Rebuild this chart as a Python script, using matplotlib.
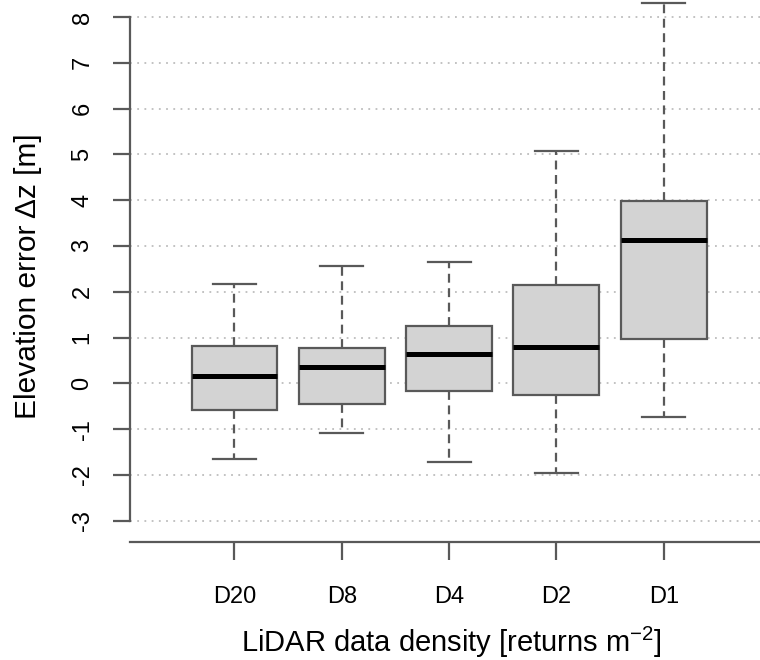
import matplotlib
matplotlib.use('Agg')
import matplotlib.pyplot as plt

plt.rcParams['font.family'] = ['Liberation Sans', 'DejaVu Sans']
plt.rcParams['mathtext.fontset'] = 'custom'
plt.rcParams['mathtext.rm'] = 'Liberation Sans'
plt.rcParams['mathtext.it'] = 'Liberation Sans:italic'

# data
labels = ['D20', 'D8', 'D4', 'D2', 'D1']
whislo = [-1.66, -1.08, -1.72, -1.95, -0.73]
q1 = [-0.58, -0.45, -0.16, -0.26, 0.96]
med = [0.17, 0.36, 0.65, 0.80, 3.13]
q3 = [0.81, 0.78, 1.25, 2.15, 3.98]
whishi = [2.16, 2.56, 2.65, 5.08, 8.30]
yticks = list(range(-3, 9))

stats = []
for i in range(len(labels)):
    stats.append({'label': labels[i], 'whislo': whislo[i], 'q1': q1[i],
                  'med': med[i], 'q3': q3[i], 'whishi': whishi[i], 'fliers': []})

gray = '#595959'

fig = plt.figure(figsize=(7.6, 6.6), dpi=100)
ax = fig.add_axes([0.1717, 0.1788, 0.8283, 0.8212])

ax.set_axisbelow(True)
ax.yaxis.grid(True, linestyle=(0, (1, 3)), color='#bdbdbd', lw=1.3)

ax.bxp(stats, positions=range(1, 6), widths=0.8, capwidths=0.4,
       patch_artist=True, showfliers=False,
       boxprops=dict(facecolor='#d3d3d3', edgecolor=gray, lw=1.6),
       medianprops=dict(color='black', lw=3.6, solid_capstyle='butt'),
       whiskerprops=dict(color=gray, lw=1.6, linestyle=(0, (4, 2.5))),
       capprops=dict(color=gray, lw=1.6))

ax.set_xlim(0.031, 5.897)
ax.set_ylim(-3.465, 8.37)
ax.set_yticks(yticks)
ax.set_yticklabels([str(t) for t in yticks])

for s in ['top', 'right']:
    ax.spines[s].set_visible(False)
ax.spines['left'].set_bounds(-3, 8)
for s in ['left', 'bottom']:
    ax.spines[s].set_color(gray)
    ax.spines[s].set_linewidth(1.6)

ax.tick_params(axis='both', length=12.6, width=1.6, color=gray, labelsize=17)
ax.tick_params(axis='y', pad=14, labelrotation=90)
ax.tick_params(axis='x', pad=19)
for t in ax.get_yticklabels():
    t.set_va('center')

fig.text(451.7 / 760, 8.3 / 660, r'LiDAR data density [returns m$^{-2}$]',
         fontsize=21, ha='center', va='baseline')
fig.text(28 / 760, 1 - 276.5 / 660, 'Elevation error Δz [m]',
         fontsize=21.5, ha='center', va='center', rotation=90)

fig.savefig('out.png', dpi=100)
